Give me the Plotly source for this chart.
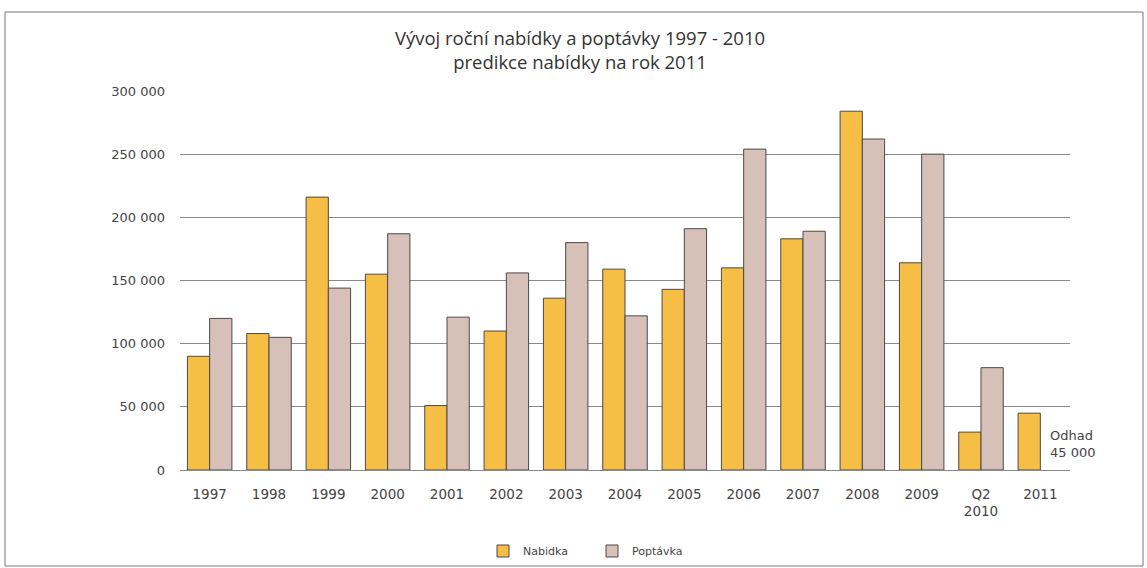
import plotly.graph_objects as go

categories = ["1997", "1998", "1999", "2000", "2001", "2002", "2003", "2004",
              "2005", "2006", "2007", "2008", "2009", "Q2<br>2010", "2011"]
nabidka = [90000, 108000, 216000, 155000, 51000, 110000, 136000, 159000,
           143000, 160000, 183000, 284000, 164000, 30000, 45000]
poptavka = [120000, 105000, 144000, 187000, 121000, 156000, 180000, 122000,
            191000, 254000, 189000, 262000, 250000, 81000, None]
y_ticks = [0, 50000, 100000, 150000, 200000, 250000, 300000]
title_lines = ["Vývoj roční nabídky a poptávky 1997 - 2010", "predikce nabídky na rok 2011"]
estimate_label = "Odhad"
estimate_value = 45000

W, H = 1147, 568
L, R, T, B = 180, 77, 91, 98
pw, ph = W - L - R, H - T - B

def px_to_paper_x(px):
    return (px - L) / pw

def px_to_paper_y(py):
    return (H - B - py) / ph

fig = go.Figure()
fig.add_trace(go.Bar(name="Nabidka", x=categories, y=nabidka,
                     marker=dict(color="#F6BE45", line=dict(color="#4a4a4a", width=1))))
fig.add_trace(go.Bar(name="Poptávka", x=categories, y=poptavka,
                     marker=dict(color="#D6C0B8", line=dict(color="#4a4a4a", width=1))))

fig.update_layout(
    width=W, height=H,
    margin=dict(l=L, r=R, t=T, b=B, autoexpand=False),
    paper_bgcolor="white", plot_bgcolor="white",
    separators=", ",
    barmode="group", bargap=0.25, bargroupgap=0,
    font=dict(family="DejaVu Sans", color="#444"),
    title=dict(text="<br>".join(title_lines), x=px_to_paper_x(580), xref="paper",
               xanchor="center", y=1 - 45 / H, yanchor="middle",
               font=dict(family="Open Sans", size=18.5, color="#333")),
    showlegend=True,
    legend=dict(orientation="h", x=px_to_paper_x(592), xref="paper", xanchor="center",
                y=px_to_paper_y(551), yanchor="middle", bgcolor="rgba(0,0,0,0)",
                font=dict(family="DejaVu Sans", size=11, color="#444"),
                entrywidth=64, entrywidthmode="pixels", itemwidth=30,
                traceorder="normal"),
    xaxis=dict(type="category", range=[-0.5, len(categories) - 0.5],
               showgrid=False, showline=False, ticks="",
               tickfont=dict(family="DejaVu Sans", size=13.5, color="#444"),
               ticklabelstandoff=14, zeroline=False),
    yaxis=dict(range=[0, 300000], tickvals=y_ticks, tickformat=",d",
               showgrid=True, gridcolor="#8a8a8a", gridwidth=1,
               zeroline=True, zerolinecolor="#8a8a8a", zerolinewidth=1,
               showline=False, ticks="", ticklabelstandoff=14,
               tickfont=dict(family="DejaVu Sans", size=13, color="#444")),
)

fig.add_annotation(x=len(categories) - 1, y=0, xref="x", yref="y",
                   text=f"{estimate_label}<br>{estimate_value:,}".replace(",", " "),
                   showarrow=False, xanchor="left", yanchor="bottom",
                   xshift=8, yshift=8, align="left",
                   font=dict(family="DejaVu Sans", size=13, color="#444"))

fig.add_shape(type="rect", xref="paper", yref="paper",
              x0=px_to_paper_x(5), x1=px_to_paper_x(1143),
              y0=px_to_paper_y(566), y1=px_to_paper_y(12),
              line=dict(color="#777", width=1), layer="below")

fig.write_html("out.html")
